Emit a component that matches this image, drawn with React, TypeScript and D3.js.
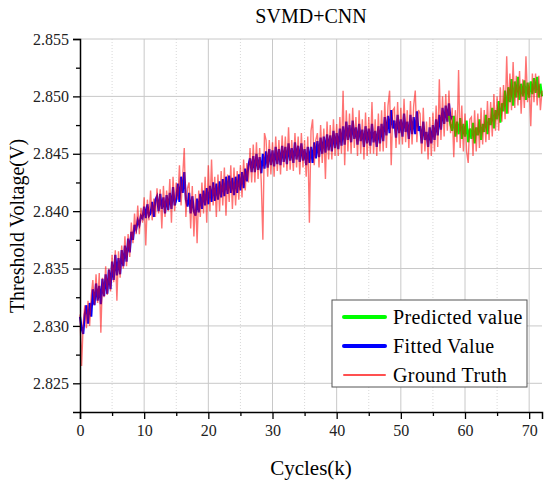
import { useEffect, useRef } from "react";
import * as d3 from "d3";

// x step of the sampled series (k cycles)
const STEP = 0.25;

// ground truth, 0 .. 72 k cycles
const groundTruth = [
  2.8310, 2.8265, 2.8302, 2.8318, 2.8298, 2.8322, 2.8300, 2.8326,
  2.8340, 2.8318, 2.8345, 2.8320, 2.8346, 2.8294, 2.8342, 2.8325,
  2.8352, 2.8327, 2.8350, 2.8330, 2.8362, 2.8338, 2.8366, 2.8322,
  2.8365, 2.8342, 2.8370, 2.8350, 2.8378, 2.8352, 2.8380, 2.8360,
  2.8390, 2.8372, 2.8398, 2.8380, 2.8405, 2.8380, 2.8403, 2.8390,
  2.8412, 2.8370, 2.8410, 2.8392, 2.8418, 2.8392, 2.8411, 2.8395,
  2.8420, 2.8398, 2.8419, 2.8385, 2.8422, 2.8395, 2.8418, 2.8400,
  2.8428, 2.8390, 2.8430, 2.8400, 2.8425, 2.8410, 2.8440, 2.8405,
  2.8430, 2.8455, 2.8395, 2.8420, 2.8425, 2.8385, 2.8422, 2.8378,
  2.8415, 2.8372, 2.8418, 2.8395, 2.8425, 2.8398, 2.8430, 2.8390,
  2.8440, 2.8400, 2.8445, 2.8405, 2.8430, 2.8395, 2.8432, 2.8400,
  2.8435, 2.8405, 2.8438, 2.8396, 2.8432, 2.8408, 2.8440, 2.8402,
  2.8438, 2.8405, 2.8435, 2.8410, 2.8440, 2.8412, 2.8445, 2.8418,
  2.8442, 2.8425, 2.8455, 2.8425, 2.8458, 2.8425, 2.8460, 2.8428,
  2.8455, 2.8425, 2.8375, 2.8468, 2.8462, 2.8430, 2.8462, 2.8432,
  2.8460, 2.8430, 2.8465, 2.8435, 2.8462, 2.8432, 2.8466, 2.8438,
  2.8465, 2.8435, 2.8473, 2.8436, 2.8462, 2.8435, 2.8468, 2.8438,
  2.8465, 2.8432, 2.8468, 2.8438, 2.8462, 2.8430, 2.8465, 2.8390,
  2.8470, 2.8480, 2.8440, 2.8462, 2.8468, 2.8438, 2.8475, 2.8442,
  2.8472, 2.8428, 2.8478, 2.8445, 2.8475, 2.8445, 2.8480, 2.8448,
  2.8476, 2.8448, 2.8482, 2.8450, 2.8505, 2.8440, 2.8488, 2.8452,
  2.8485, 2.8450, 2.8490, 2.8455, 2.8482, 2.8448, 2.8488, 2.8450,
  2.8480, 2.8445, 2.8486, 2.8448, 2.8482, 2.8450, 2.8495, 2.8450,
  2.8480, 2.8448, 2.8485, 2.8452, 2.8488, 2.8452, 2.8495, 2.8455,
  2.8492, 2.8505, 2.8440, 2.8488, 2.8490, 2.8455, 2.8495, 2.8458,
  2.8490, 2.8458, 2.8498, 2.8460, 2.8488, 2.8455, 2.8496, 2.8458,
  2.8492, 2.8505, 2.8460, 2.8488, 2.8485, 2.8450, 2.8490, 2.8452,
  2.8478, 2.8445, 2.8482, 2.8448, 2.8486, 2.8452, 2.8492, 2.8456,
  2.8515, 2.8462, 2.8500, 2.8465, 2.8502, 2.8470, 2.8505, 2.8468,
  2.8490, 2.8447, 2.8488, 2.8460, 2.8523, 2.8455, 2.8492, 2.8452,
  2.8485, 2.8452, 2.8442, 2.8480, 2.8482, 2.8448, 2.8488, 2.8452,
  2.8485, 2.8455, 2.8490, 2.8458, 2.8488, 2.8460, 2.8496, 2.8462,
  2.8495, 2.8465, 2.8502, 2.8470, 2.8500, 2.8470, 2.8508, 2.8478,
  2.8510, 2.8480, 2.8535, 2.8485, 2.8520, 2.8488, 2.8530, 2.8490,
  2.8518, 2.8492, 2.8522, 2.8485, 2.8515, 2.8490, 2.8535, 2.8495,
  2.8512, 2.8474, 2.8520, 2.8495, 2.8520, 2.8492, 2.8518, 2.8488,
  2.8505,
];

// fitted value, 0 .. 57.5 k cycles
const fitted = [
  2.8308, 2.8298, 2.8293, 2.8310, 2.8318, 2.8302, 2.8320, 2.8308,
  2.8332, 2.8318, 2.8337, 2.8322, 2.8335, 2.8319, 2.8341, 2.8326,
  2.8345, 2.8328, 2.8349, 2.8332, 2.8356, 2.8340, 2.8362, 2.8344,
  2.8359, 2.8345, 2.8366, 2.8352, 2.8370, 2.8356, 2.8376, 2.8364,
  2.8382, 2.8375, 2.8388, 2.8384, 2.8392, 2.8388, 2.8396, 2.8394,
  2.8404, 2.8394, 2.8406, 2.8396, 2.8398, 2.8408, 2.8395, 2.8410,
  2.8413, 2.8400, 2.8415, 2.8402, 2.8412, 2.8398, 2.8414, 2.8401,
  2.8416, 2.8402, 2.8421, 2.8405, 2.8410, 2.8424, 2.8408, 2.8430,
  2.8416, 2.8434, 2.8410, 2.8404, 2.8416, 2.8398, 2.8413, 2.8400,
  2.8396, 2.8411, 2.8399, 2.8415, 2.8402, 2.8418, 2.8405, 2.8420,
  2.8406, 2.8422, 2.8408, 2.8425, 2.8409, 2.8424, 2.8410, 2.8426,
  2.8412, 2.8428, 2.8413, 2.8430, 2.8415, 2.8431, 2.8416, 2.8429,
  2.8414, 2.8430, 2.8416, 2.8432, 2.8418, 2.8434, 2.8420, 2.8437,
  2.8426, 2.8440, 2.8446, 2.8434, 2.8448, 2.8434, 2.8450, 2.8436,
  2.8447, 2.8433, 2.8450, 2.8437, 2.8452, 2.8438, 2.8454, 2.8440,
  2.8453, 2.8439, 2.8456, 2.8441, 2.8454, 2.8440, 2.8457, 2.8443,
  2.8456, 2.8441, 2.8459, 2.8444, 2.8455, 2.8442, 2.8460, 2.8445,
  2.8457, 2.8443, 2.8459, 2.8444, 2.8454, 2.8440, 2.8456, 2.8442,
  2.8456, 2.8442, 2.8460, 2.8446, 2.8461, 2.8447, 2.8464, 2.8450,
  2.8465, 2.8451, 2.8467, 2.8453, 2.8466, 2.8452, 2.8470, 2.8455,
  2.8468, 2.8454, 2.8472, 2.8457, 2.8474, 2.8458, 2.8478, 2.8462,
  2.8475, 2.8460, 2.8479, 2.8463, 2.8473, 2.8458, 2.8476, 2.8461,
  2.8471, 2.8456, 2.8474, 2.8459, 2.8472, 2.8457, 2.8476, 2.8460,
  2.8470, 2.8456, 2.8474, 2.8459, 2.8476, 2.8461, 2.8482, 2.8466,
  2.8483, 2.8468, 2.8488, 2.8472, 2.8479, 2.8464, 2.8484, 2.8468,
  2.8480, 2.8465, 2.8485, 2.8469, 2.8478, 2.8463, 2.8484, 2.8467,
  2.8482, 2.8467, 2.8487, 2.8470, 2.8474, 2.8459, 2.8478, 2.8462,
  2.8469, 2.8456, 2.8473, 2.8459, 2.8475, 2.8462, 2.8480, 2.8466,
  2.8484, 2.8471, 2.8490, 2.8476, 2.8492, 2.8478, 2.8494, 2.8480,
  2.8483,
];

// predicted value, 57.5 .. 72 k cycles
const predictedStart = 57.5;
const predicted = [
  2.8483, 2.8475,
  2.8470, 2.8483, 2.8465, 2.8478, 2.8467, 2.8481, 2.8463, 2.8476,
  2.8465, 2.8479, 2.8460, 2.8472, 2.8463, 2.8477, 2.8459, 2.8473,
  2.8466, 2.8480, 2.8462, 2.8476, 2.8469, 2.8484, 2.8467, 2.8481,
  2.8475, 2.8490, 2.8472, 2.8488, 2.8480, 2.8496, 2.8477, 2.8494,
  2.8487, 2.8505, 2.8485, 2.8508, 2.8495, 2.8515, 2.8492, 2.8513,
  2.8499, 2.8517, 2.8497, 2.8511, 2.8500, 2.8514, 2.8497, 2.8512,
  2.8499, 2.8513, 2.8502, 2.8516, 2.8503, 2.8517, 2.8499, 2.8511,
  2.8500,
];

const xTicks = [0, 10, 20, 30, 40, 50, 60, 70];
const xMinorTicks = [5, 15, 25, 35, 45, 55, 65];
const yTicks = [2.825, 2.83, 2.835, 2.84, 2.845, 2.85, 2.855];
const yMinorTicks = [2.8275, 2.8325, 2.8375, 2.8425, 2.8475, 2.8525];

const legendItems = [
  { label: "Predicted value", color: "#00ff00", width: 4 },
  { label: "Fitted Value", color: "#0000ff", width: 4 },
  { label: "Ground Truth", color: "#ff5050", width: 2 },
];

export default function App() {
  const svgRef = useRef<SVGSVGElement | null>(null);

  useEffect(() => {
    if (!svgRef.current) return;
    const root = d3.select(svgRef.current);
    root.selectAll("*").remove();

    const width = 550;
    const height = 488;
    const margin = { top: 39, right: 8, bottom: 76, left: 80 };
    const innerW = width - margin.left - margin.right;
    const innerH = height - margin.top - margin.bottom;
    const font = "'Liberation Serif', 'DejaVu Serif', serif";

    const x = d3.scaleLinear().domain([0, 72]).range([0, innerW]);
    const y = d3.scaleLinear().domain([2.8225, 2.855]).range([innerH, 0]);

    const g = root.append("g").attr("transform", `translate(${margin.left},${margin.top})`);

    // grid
    g.append("g")
      .selectAll("line")
      .data(xMinorTicks)
      .join("line")
      .attr("x1", (d) => x(d))
      .attr("x2", (d) => x(d))
      .attr("y1", 0)
      .attr("y2", innerH)
      .attr("stroke", "#d8d8d8")
      .attr("stroke-dasharray", "1,2");
    g.append("g")
      .selectAll("line")
      .data(xTicks.filter((d) => d > 0))
      .join("line")
      .attr("x1", (d) => x(d))
      .attr("x2", (d) => x(d))
      .attr("y1", 0)
      .attr("y2", innerH)
      .attr("stroke", "#c8c8c8");
    g.append("g")
      .selectAll("line")
      .data(yTicks)
      .join("line")
      .attr("x1", 0)
      .attr("x2", innerW)
      .attr("y1", (d) => y(d))
      .attr("y2", (d) => y(d))
      .attr("stroke", "#c8c8c8");

    const line = (x0: number) =>
      d3
        .line<number>()
        .x((_, i) => x(x0 + i * STEP))
        .y((d) => y(d));

    g.append("path")
      .datum(fitted)
      .attr("d", line(0))
      .attr("fill", "none")
      .attr("stroke", "#0000ff")
      .attr("stroke-width", 2.2);
    g.append("path")
      .datum(predicted)
      .attr("d", line(predictedStart))
      .attr("fill", "none")
      .attr("stroke", "#00ff00")
      .attr("stroke-width", 2.2);
    g.append("path")
      .datum(groundTruth)
      .attr("d", line(0))
      .attr("fill", "none")
      .attr("stroke", "#ff0000")
      .attr("stroke-opacity", 0.55)
      .attr("stroke-width", 1.4);

    // axes
    const xAxis = g
      .append("g")
      .attr("transform", `translate(0,${innerH})`)
      .call(d3.axisBottom(x).tickValues(xTicks).tickSize(7).tickPadding(6).tickFormat(d3.format("d")));
    g.append("g")
      .attr("transform", `translate(0,${innerH})`)
      .call(d3.axisBottom(x).tickValues(xMinorTicks).tickSize(4).tickFormat(() => ""))
      .select(".domain")
      .remove();
    const yAxis = g
      .append("g")
      .call(d3.axisLeft(y).tickValues(yTicks).tickSize(7).tickPadding(4).tickFormat(d3.format(".3f")));
    g.append("g")
      .call(d3.axisLeft(y).tickValues(yMinorTicks).tickSize(4).tickFormat(() => ""))
      .select(".domain")
      .remove();

    [xAxis, yAxis].forEach((a) => {
      a.select(".domain").attr("stroke", "#000").attr("stroke-width", 1.5);
      a.selectAll("text").attr("font-family", font).attr("font-size", 16).attr("fill", "#222");
    });
    g.selectAll(".tick line").attr("stroke", "#000").attr("stroke-width", 1.3);

    // titles
    root
      .append("text")
      .attr("x", margin.left + innerW / 2)
      .attr("y", 23)
      .attr("text-anchor", "middle")
      .attr("font-family", font)
      .attr("font-size", 20)
      .text("SVMD+CNN");
    root
      .append("text")
      .attr("x", margin.left + innerW / 2)
      .attr("y", 475)
      .attr("text-anchor", "middle")
      .attr("font-family", font)
      .attr("font-size", 21)
      .text("Cycles(k)");
    root
      .append("text")
      .attr("transform", `translate(24,226) rotate(-90)`)
      .attr("text-anchor", "middle")
      .attr("font-family", font)
      .attr("font-size", 20)
      .text("Threshold Voltage(V)");

    // legend
    const lg = root.append("g").attr("transform", "translate(332,300)");
    lg.append("rect")
      .attr("width", 195)
      .attr("height", 87)
      .attr("fill", "#fff")
      .attr("stroke", "#555")
      .attr("stroke-width", 1);
    legendItems.forEach((item, i) => {
      const cy = 17 + i * 29;
      lg.append("line")
        .attr("x1", 12)
        .attr("x2", 53)
        .attr("y1", cy)
        .attr("y2", cy)
        .attr("stroke", item.color)
        .attr("stroke-width", item.width)
        .attr("stroke-linecap", "round");
      lg.append("text")
        .attr("x", 61)
        .attr("y", cy + 7)
        .attr("font-family", font)
        .attr("font-size", 20)
        .attr("letter-spacing", 0.4)
        .text(item.label);
    });
  }, []);

  return (
    <svg
      ref={svgRef}
      width={550}
      height={488}
      style={{ position: "absolute", left: 0, top: 0, background: "#fff" }}
    />
  );
}
